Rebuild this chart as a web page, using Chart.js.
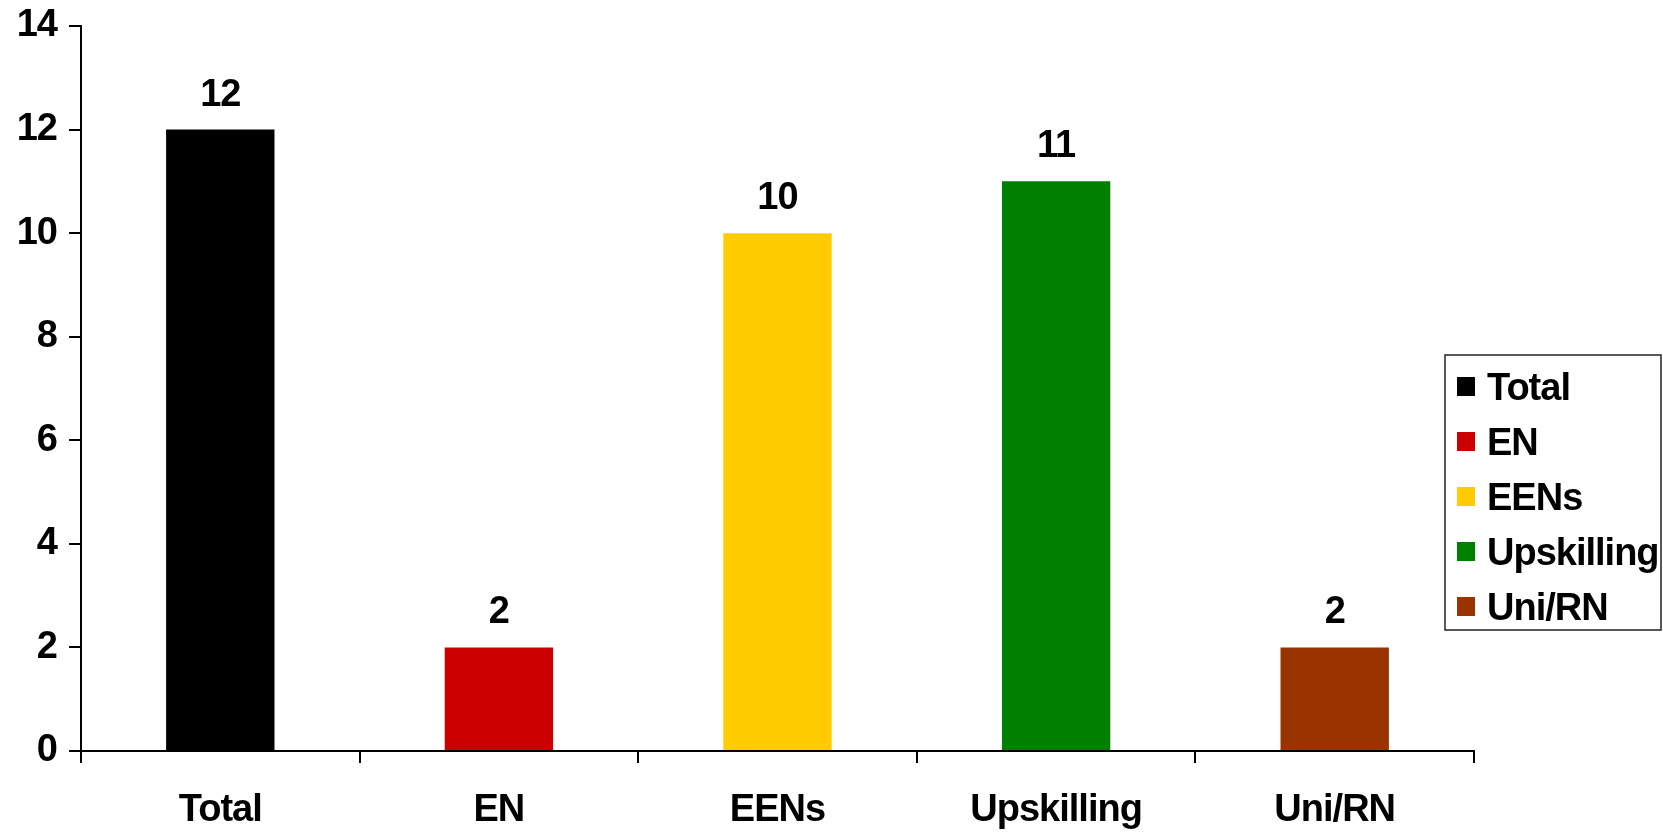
<!DOCTYPE html>
<html>
<head>
<meta charset="utf-8">
<script src="https://cdn.jsdelivr.net/npm/chart.js@4"></script>
<style>
  html, body { margin: 0; padding: 0; background: #fff; }
  #wrap { width: 1663px; height: 832px; }
</style>
</head>
<body>
<div id="wrap"><canvas id="c" width="1663" height="832"></canvas></div>
<script>
const categories = ["Total", "EN", "EENs", "Upskilling", "Uni/RN"];
const values = [12, 2, 10, 11, 2];
const barColors = ["#000000", "#CC0000", "#FFCC00", "#008000", "#993300"];
const yTicks = [0, 2, 4, 6, 8, 10, 12, 14];

const FONT = "'Liberation Sans', Arial, Helvetica, sans-serif";
const FS = 38;

const spacingPlugin = {
  id: 'spacing',
  beforeLayout(chart) { chart.ctx.letterSpacing = '-1px'; },
  beforeDraw(chart) { chart.ctx.letterSpacing = '-1px'; }
};

const valueLabels = {
  id: 'valueLabels',
  afterDatasetsDraw(chart) {
    const ctx = chart.ctx;
    const meta = chart.getDatasetMeta(0);
    ctx.save();
    ctx.letterSpacing = '-1px';
    ctx.font = `bold ${FS}px ${FONT}`;
    ctx.fillStyle = '#000';
    ctx.textAlign = 'center';
    ctx.textBaseline = 'alphabetic';
    meta.data.forEach((el, i) => {
      ctx.fillText(String(values[i]), el.x, el.y - 24);
    });
    ctx.restore();
  }
};

const boxLegend = {
  id: 'boxLegend',
  afterDraw(chart) {
    const ctx = chart.ctx;
    ctx.save();
    ctx.letterSpacing = '-1px';
    const x0 = 1445, y0 = 355, w = 216, h = 275;
    ctx.fillStyle = '#fff';
    ctx.fillRect(x0, y0, w, h);
    ctx.strokeStyle = '#222';
    ctx.lineWidth = 1.5;
    ctx.strokeRect(x0, y0, w, h);
    ctx.font = `bold ${FS}px ${FONT}`;
    ctx.textAlign = 'left';
    ctx.textBaseline = 'alphabetic';
    const labels = chart.data.labels;
    const colors = chart.data.datasets[0].backgroundColor;
    labels.forEach((lab, i) => {
      const cy = 386.5 + i * 55;
      ctx.fillStyle = colors[i];
      ctx.fillRect(1457, cy - 9.5, 18, 19);
      ctx.fillStyle = '#000';
      ctx.fillText(lab, 1487, cy + 13.5);
    });
    ctx.restore();
  }
};

new Chart(document.getElementById('c'), {
  type: 'bar',
  data: {
    labels: categories,
    datasets: [{
      data: values,
      backgroundColor: barColors,
      borderWidth: 0,
      categoryPercentage: 1.0,
      barPercentage: 0.389
    }]
  },
  options: {
    responsive: false,
    animation: false,
    devicePixelRatio: 1,
    layout: { padding: { top: 26, right: 189, left: 0, bottom: 0 } },
    plugins: {
      legend: { display: false },
      tooltip: { enabled: false }
    },
    scales: {
      x: {
        afterFit(s) { s.height = 81; s.paddingLeft = 0; s.paddingRight = 0; },
        grid: {
          offset: true,
          drawOnChartArea: false,
          drawTicks: true,
          tickLength: 12,
          color: '#000',
          lineWidth: 2
        },
        border: { display: true, color: '#000', width: 2 },
        ticks: {
          color: '#000',
          padding: 25,
          maxRotation: 0,
          font: { family: FONT, size: FS, weight: 'bold' }
        }
      },
      y: {
        min: 0,
        max: 14,
        afterFit(s) { s.width = 81; s.paddingTop = 0; s.paddingBottom = 0; },
        afterBuildTicks(s) { s.ticks = yTicks.map(v => ({ value: v })); },
        grid: {
          drawOnChartArea: false,
          drawTicks: true,
          tickLength: 12,
          color: '#000',
          lineWidth: 2
        },
        border: { display: true, color: '#000', width: 2 },
        ticks: {
          color: '#000',
          padding: 12,
          font: { family: FONT, size: FS, weight: 'bold' }
        }
      }
    }
  },
  plugins: [spacingPlugin, valueLabels, boxLegend]
});
</script>
</body>
</html>
